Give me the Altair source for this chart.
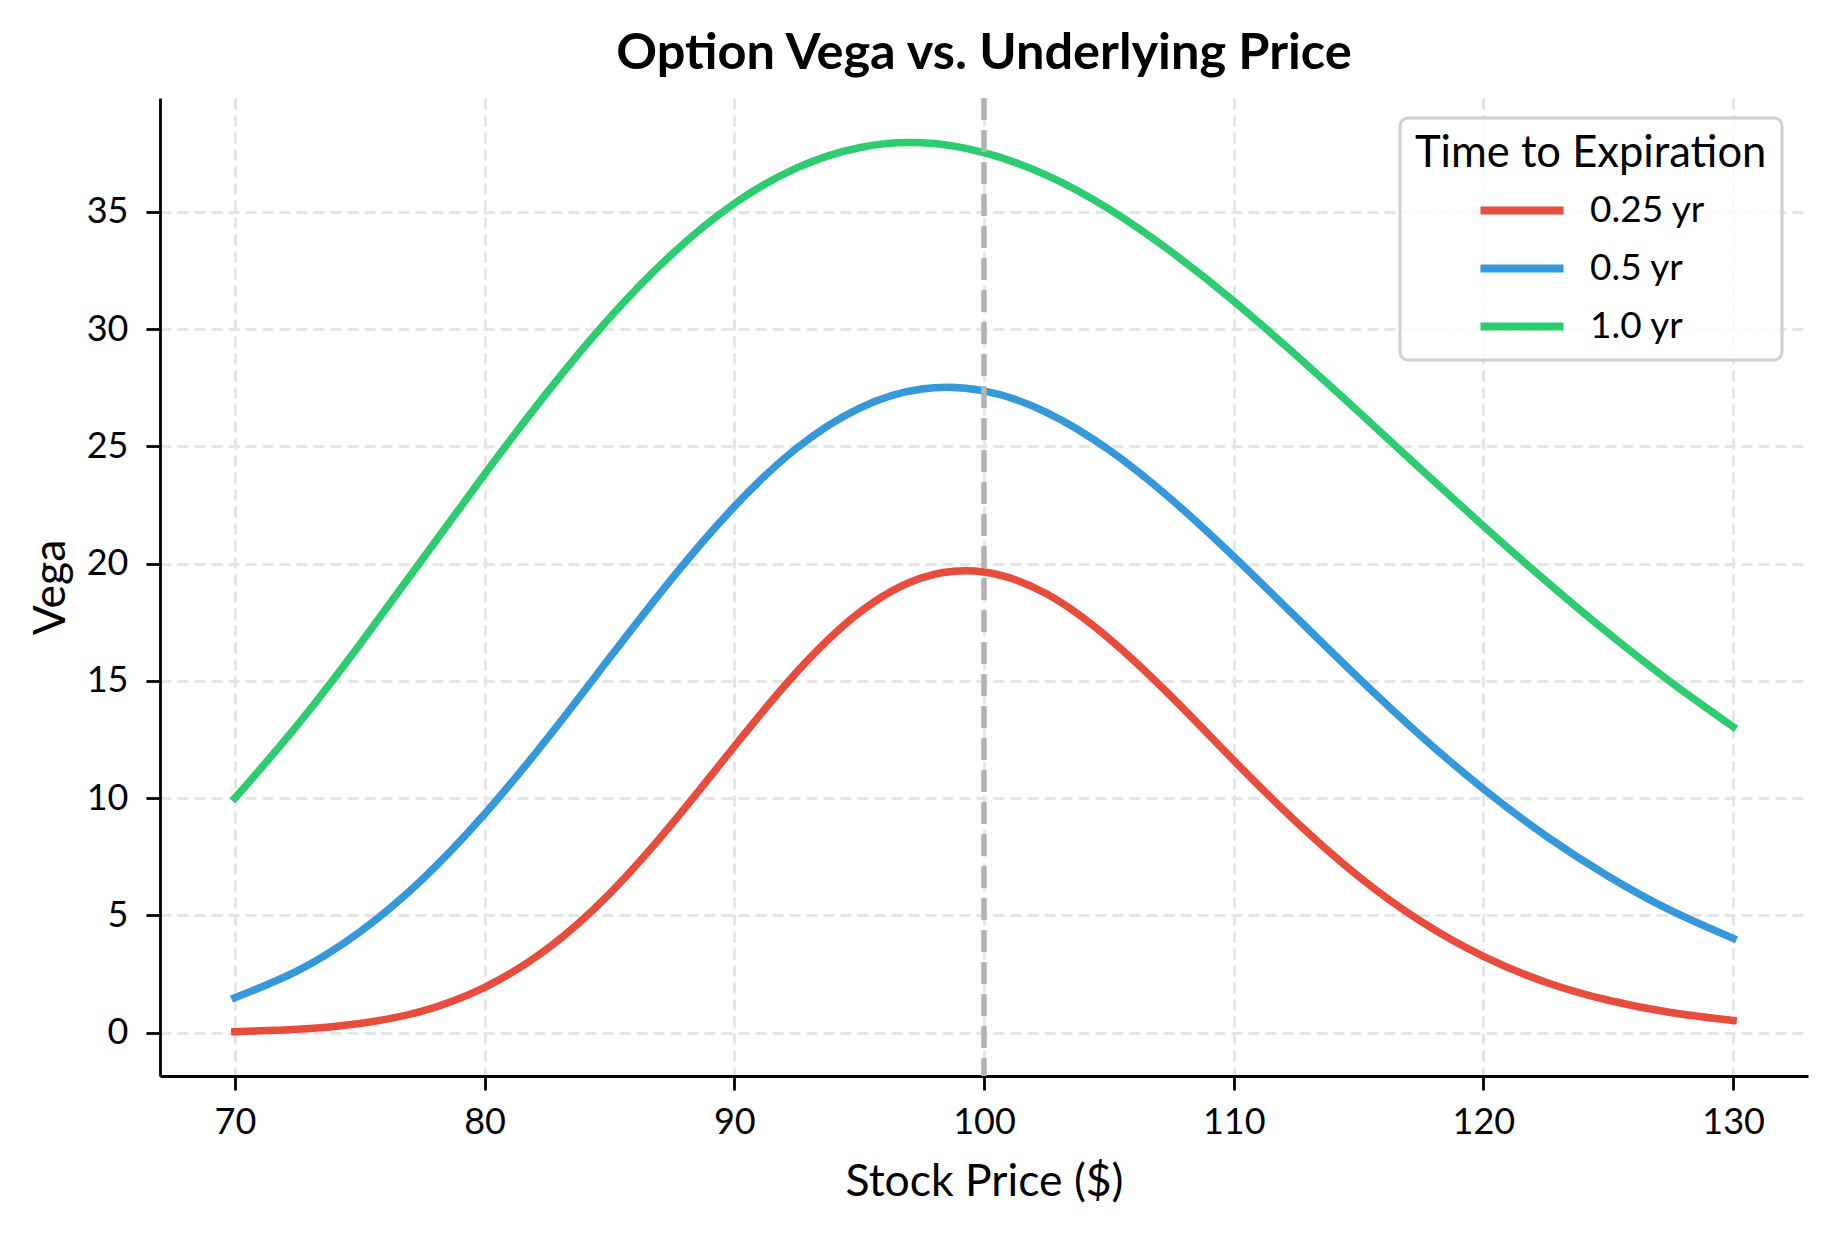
import altair as alt
import pandas as pd

# stock price grid (x) and vega for each expiry
precos = [70, 72.5, 75, 77.5, 80, 82.5, 85, 87.5, 90, 92.5, 95, 97.5, 100,
          102.5, 105, 107.5, 110, 112.5, 115, 117.5, 120, 122.5, 125, 127.5, 130]
vega_025 = [0.04, 0.14, 0.39, 0.92, 1.93, 3.57, 5.92, 8.90, 12.20, 15.37, 17.90, 19.39, 19.64,
            18.71, 16.81, 14.33, 11.61, 8.99, 6.66, 4.74, 3.25, 2.15, 1.38, 0.86, 0.52]
vega_05 = [1.49, 2.63, 4.29, 6.53, 9.32, 12.53, 15.97, 19.36, 22.43, 24.92, 26.62, 27.44, 27.36,
           26.45, 24.85, 22.74, 20.30, 17.71, 15.12, 12.65, 10.39, 8.39, 6.67, 5.21, 4.02]
vega_10 = [10.00, 13.11, 16.55, 20.17, 23.81, 27.29, 30.47, 33.19, 35.35, 36.87, 37.73, 37.94, 37.52,
           36.56, 35.12, 33.29, 31.19, 28.88, 26.47, 24.02, 21.60, 19.26, 17.03, 14.95, 13.04]

series = ["0.25 yr", "0.5 yr", "1.0 yr"]
colors = ["#e74c3c", "#3498db", "#2ecc71"]
strike = [100]
x_ticks = [70, 80, 90, 100, 110, 120, 130]
y_ticks = [0, 5, 10, 15, 20, 25, 30, 35]

df = pd.concat([
    pd.DataFrame({"price": precos, "vega": v, "expiry": s})
    for s, v in zip(series, [vega_025, vega_05, vega_10])
])
df_strike = pd.DataFrame({"strike": strike})

fonte = "Lato"

lines = alt.Chart(df).mark_line(strokeWidth=7.5, interpolate="natural", strokeCap="square").encode(
    alt.X("price:Q", title="Stock Price ($)",
          scale=alt.Scale(domain=[67, 133], nice=False, zero=False),
          axis=alt.Axis(values=x_ticks, format="d", labelPadding=15, titlePadding=20)),
    alt.Y("vega:Q", title="Vega",
          scale=alt.Scale(domain=[-1.85, 39.85], nice=False, zero=False),
          axis=alt.Axis(values=y_ticks, format="d", labelPadding=18, titlePadding=13)),
    color=alt.Color("expiry:N", scale=alt.Scale(domain=series, range=colors),
                    legend=alt.Legend(
                        title="Time to Expiration", orient="none", legendX=1240, legendY=20,
                        titleFont=fonte, titleFontSize=43.5, titleFontWeight="normal", titleColor="black",
                        titleLimit=1000, labelLimit=1000,
                        labelFont=fonte, labelFontSize=37, labelColor="black",
                        symbolType="M-4,0H4", symbolSize=431, symbolStrokeWidth=8,
                        symbolOffset=88.5, labelOffset=49.5,
                        padding=15, titlePadding=15.5, rowPadding=20,
                        fillColor="rgba(255,255,255,0.8)", strokeColor="#d0d0d0",
                        cornerRadius=8)),
)

rule = alt.Chart(df_strike).mark_rule(color="#b3b3b3", strokeWidth=5.5, strokeDash=[22, 10]).encode(
    alt.X("strike:Q", title="Stock Price ($)")
)

chart = alt.layer(lines, rule).properties(
    width=1648,
    height=978,
    padding={"left": 20, "top": 20, "right": 5, "bottom": 5},
    title=alt.TitleParams("Option Vega vs. Underlying Price", font=fonte, fontSize=50.5,
                          fontWeight="bold", color="black", anchor="middle", offset=16),
).configure_view(
    stroke=None
).configure_legend(
    strokeWidth=3
).configure_axis(
    domainColor="black", domainWidth=2.8, tickColor="black", tickWidth=2.8, tickSize=14,
    labelFont=fonte, labelFontSize=36, labelColor="black", labelFlush=False, labelOverlap=False,
    titleFont=fonte, titleFontSize=44.5, titleFontWeight="normal", titleColor="black",
    grid=True, gridColor="#e5e5e5", gridWidth=3, gridDash=[11, 6],
)

chart.save("out.html", embed_options={"renderer": "svg", "actions": False})
